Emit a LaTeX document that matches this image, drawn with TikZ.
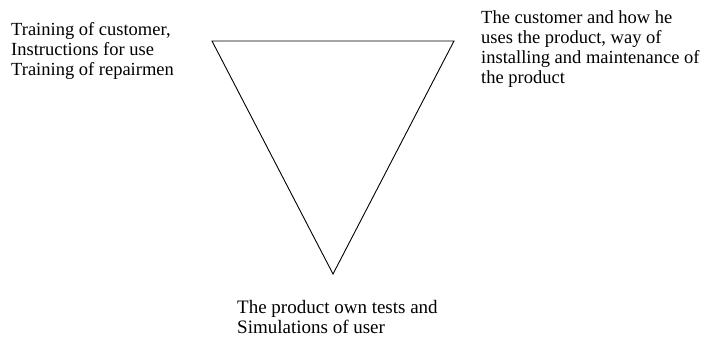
\documentclass[tikz,border=0pt]{standalone}
\usepackage{fontspec}
\setmainfont{Liberation Serif}
\usepackage{tikz}
\usetikzlibrary{positioning}
\tikzstyle{note} = [
  anchor=north west, inner sep=0pt, align=left,
  font=\fontsize{18.5}{20}\selectfont
]
\tikzstyle{edge} = [draw=black, line width=0.9pt, line join=miter]

\begin{document}
\begin{tikzpicture}[x=1pt, y=-1pt]
  \useasboundingbox (0,0) rectangle (702,338);

  % Triangle corners
  \coordinate (tl) at (212,41);
  \coordinate (tr) at (454,41);
  \coordinate (bot) at (333,274);

  % Triangle
  \draw[edge] (tl) -- (tr) -- (bot) -- cycle;

  % Labels
  \node[note] (training) at (11,22.4) {Training of customer,\\Instructions for use\\Training of repairmen};
  \node[note] (customer) at (481,10.4) {The customer and how he\\uses the product, way of\\installing and maintenance of\\the product};
  \node[note, font=\fontsize{19}{20}\selectfont] (tests) at (237,299.7) {The product own tests and\\Simulations of user};

\end{tikzpicture}
\end{document}
